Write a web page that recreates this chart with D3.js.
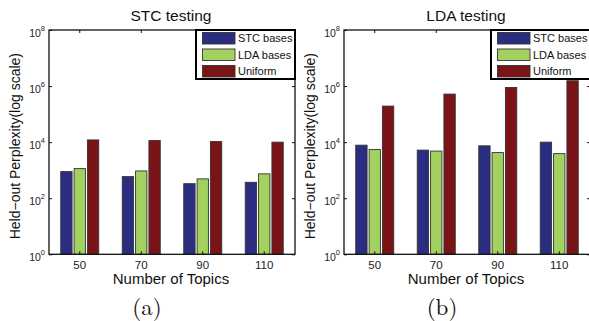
<!DOCTYPE html>
<html><head><meta charset="utf-8">
<script src="https://cdn.jsdelivr.net/npm/d3@7"></script>
<style>body{margin:0;background:#fff;} svg{display:block;}</style>
</head><body>
<svg id="c" width="589" height="321"></svg>
<script>
const categories = ["50","70","90","110"];
const seriesNames = ["STC bases","LDA bases","Uniform"];
const seriesColors = ["#2b2e80","#a2d160","#7a1417"];
const panelTitles = ["STC testing","LDA testing"];
const panelLetters = ["(a)","(b)"];
// STC testing
const stcStc = [890, 590, 330, 370];
const stcLda = [1140, 940, 490, 740];
const stcUni = [12000, 11400, 10500, 10000];
// LDA testing
const ldaStc = [7800, 5200, 7400, 10000];
const ldaLda = [5450, 4800, 4250, 3900];
const ldaUni = [193000, 518000, 890000, 1550000];
const yTicks = [1, 100, 10000, 1000000, 100000000];
const yExponents = [0, 2, 4, 6, 8];

const panels = [[stcStc, stcLda, stcUni],[ldaStc, ldaLda, ldaUni]];
const svg = d3.select("#c");
const font = "'Liberation Sans', Arial, Helvetica, sans-serif";
const lefts = [49, 344];
const W = 246, plotTop = 30, plotBottom = 254.3;

panels.forEach((series, pi) => {
  const x0 = lefts[pi], x1 = x0 + W;
  const g = svg.append("g");
  const x = d3.scaleBand().domain(categories).range([x0, x1]).padding(0);
  const xs = d3.scaleBand().domain(seriesNames).range([-19, 19]).paddingInner(0.15);
  const y = d3.scaleLog().domain([1, 1e8]).range([plotBottom, plotTop]);

  // bars
  seriesNames.forEach((s, si) => {
    g.selectAll(null).data(series[si]).enter().append("rect")
      .attr("x", (d, i) => x(categories[i]) + x.bandwidth()/2 + xs(s))
      .attr("width", xs.bandwidth())
      .attr("y", d => y(d))
      .attr("height", d => plotBottom - y(d))
      .attr("fill", seriesColors[si])
      .attr("stroke", "#333").attr("stroke-width", 0.9);
  });

  // axes box
  g.append("rect").attr("x", x0).attr("y", plotTop).attr("width", W).attr("height", plotBottom - plotTop)
    .attr("fill", "none").attr("stroke", "#111").attr("stroke-width", 1.3);

  const ax = g.append("g").attr("transform", `translate(${x0},0)`)
    .call(d3.axisLeft(y).tickValues(yTicks).tickSize(-3).tickPadding(4).tickFormat(() => "10"));
  ax.select(".domain").remove();
  ax.selectAll("text").attr("font-family", font).attr("font-size", 10.5).attr("fill", "#222")
    .attr("dy", "0.6em")
    .each(function(d, i) {
      d3.select(this).append("tspan").attr("font-size", 7.5).attr("dy", "-0.75em").text(yExponents[i]);
    });
  ax.selectAll("line").attr("stroke", "#111");
  const axR = g.append("g").attr("transform", `translate(${x1},0)`)
    .call(d3.axisRight(y).tickValues(yTicks).tickSize(-3).tickFormat(""));
  axR.select(".domain").remove();
  axR.selectAll("line").attr("stroke", "#111");

  const xb = g.append("g").attr("transform", `translate(0,${plotBottom})`)
    .call(d3.axisBottom(x).tickSize(-3).tickPadding(7));
  xb.select(".domain").remove();
  xb.selectAll("line").attr("stroke", "#111");
  xb.selectAll("text").attr("font-family", font).attr("font-size", 11.5).attr("fill", "#222");
  const xt = g.append("g").attr("transform", `translate(0,${plotTop})`)
    .call(d3.axisTop(x).tickSize(-3).tickFormat(""));
  xt.select(".domain").remove();
  xt.selectAll("line").attr("stroke", "#111");

  // title
  g.append("text").attr("x", x0 + W/2 - 1).attr("y", 21).attr("text-anchor", "middle")
    .attr("font-family", font).attr("font-size", 15.5).attr("fill", "#111").text(panelTitles[pi]);
  // x label
  g.append("text").attr("x", x0 + W/2 - 1).attr("y", 284).attr("text-anchor", "middle")
    .attr("font-family", font).attr("font-size", 15).attr("fill", "#111").text("Number of Topics");
  // y label
  g.append("text").attr("transform", `translate(${x0 - 34},${(plotTop + plotBottom)/2 + 4}) rotate(-90)`)
    .attr("text-anchor", "middle").attr("dy", "0.35em")
    .attr("font-family", font).attr("font-size", 14).attr("fill", "#111")
    .text("Held\u2212out Perplexity(log scale)");
  // panel letter
  g.append("text").attr("x", x0 + W/2 - 25).attr("y", 315).attr("text-anchor", "middle")
    .attr("font-family", "'Latin Modern Roman','Liberation Serif','DejaVu Serif',serif").attr("font-size", 23)
    .attr("fill", "#111").text(panelLetters[pi]);

  // legend
  const lx = x1 - 99, ly = plotTop;
  g.append("rect").attr("x", lx).attr("y", ly).attr("width", 99).attr("height", 49)
    .attr("fill", "#fff").attr("stroke", "#000").attr("stroke-width", 2);
  seriesNames.forEach((s, si) => {
    const ry = ly + 2.5 + si * 16.5;
    g.append("rect").attr("x", lx + 6.5).attr("y", ry).attr("width", 32.5).attr("height", 11.5)
      .attr("fill", seriesColors[si]).attr("stroke", "#333").attr("stroke-width", 0.9);
    g.append("text").attr("x", lx + 42).attr("y", ry + 6).attr("dy", "0.35em")
      .attr("font-family", font).attr("font-size", 11).attr("fill", "#111").text(s);
  });
});
</script>
</body></html>
